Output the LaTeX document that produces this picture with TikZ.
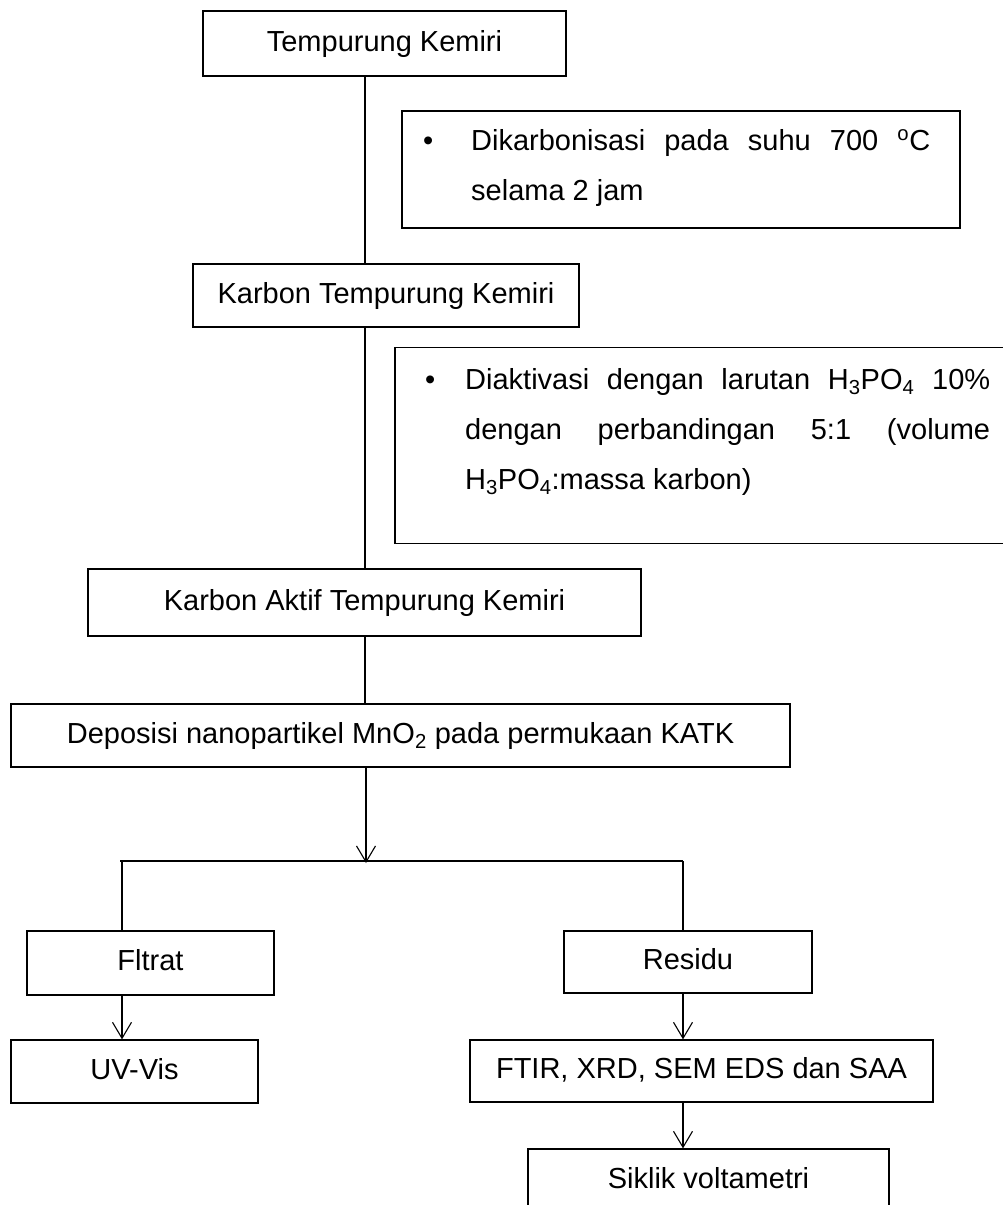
\documentclass[tikz,border=0pt]{standalone}
\usepackage{fontspec}
\setmainfont{Liberation Sans}
\usetikzlibrary{arrows.meta}
\tikzset{
  box/.style={draw, line width=1.3pt, rectangle, inner sep=0pt, align=center,
    text height=21pt, text depth=6pt, font=\fontsize{29pt}{50pt}\selectfont},
  frame/.style={draw, line width=1.3pt, rectangle, inner sep=0pt},
  note/.style={inner sep=0pt, anchor=base west, font=\fontsize{29pt}{50pt}\selectfont},
  conn/.style={line width=1.5pt},
  bar/.style={line width=2.4pt},
  arr/.style={-{Straight Barb[length=16pt,width=19pt,line width=1.1pt]}},
}
\begin{document}
\begin{tikzpicture}[x=1pt,y=-1pt]
\useasboundingbox (0,0) rectangle (1003,1205);

% main chain
\node[box, minimum width=363pt, minimum height=65pt] (tk)  at (384.5,43.5) {Tempurung Kemiri};
\node[box, minimum width=386pt, minimum height=63pt] (ktk) at (386,295.5) {Karbon Tempurung Kemiri};
\node[box, minimum width=553pt, minimum height=67pt] (kat) at (364.5,602.5) {Karbon Aktif Tempurung Kemiri};
\node[box, minimum width=779pt, minimum height=63pt] (dep) at (400.5,735.5)
  {Deposisi nanopartikel MnO\textsubscript{2} pada permukaan KATK};

% process notes
\node[frame, minimum width=558pt, minimum height=117pt] (dk) at (681,169.5) {};
\node[note] (dktxt) at (471,150) {\begin{minipage}[t]{459pt}\noindent
  \llap{\textbullet\hspace{38pt}}Dikarbonisasi pada suhu 700 \textsuperscript{o}C\linebreak
  selama 2 jam\end{minipage}};

\node[frame, minimum width=617pt, minimum height=196pt] (akt) at (703.5,445.5) {};
\node[note] (akttxt) at (465,389) {\begin{minipage}[t]{525pt}\noindent
  \llap{\textbullet\hspace{30pt}}Diaktivasi dengan larutan H\textsubscript{3}PO\textsubscript{4} 10\%\linebreak
  dengan perbandingan 5:1 (volume\linebreak
  H\textsubscript{3}PO\textsubscript{4}:massa karbon)\end{minipage}};

% branches
\node[box, minimum width=247pt, minimum height=64pt] (fil)  at (150.5,963) {Fltrat};
\node[box, minimum width=247pt, minimum height=63pt] (uv)   at (134.5,1071.5) {UV-Vis};
\node[box, minimum width=248pt, minimum height=62pt] (res)  at (688,962) {Residu};
\node[box, minimum width=463pt, minimum height=62pt] (ftir) at (701.5,1071) {FTIR, XRD, SEM EDS dan SAA};
\node[box, minimum width=361pt, minimum height=63pt] (sv)   at (708.5,1180.5) {Siklik voltametri};

% connector guides
\coordinate (tx) at (365,0);
\coordinate (split) at (366,861);
\coordinate (sl) at (122,861);
\coordinate (sr) at (683,861);

\draw[conn] (tk.south -| tx) -- (ktk.north -| tx);
\draw[conn] (ktk.south -| tx) -- (kat.north -| tx);
\draw[conn] (kat.south -| tx) -- (dep.north -| tx);
\draw[conn,arr] (dep.south -| split) -- ([yshift=-2pt]split);
\draw[bar] ([xshift=-2pt]sl) -- (sr);
\draw[conn] (sl) -- (fil.north -| sl);
\draw[conn] (sr) -- (res.north -| sr);
\draw[conn,arr] (fil.south -| sl) -- (uv.north -| sl);
\draw[conn,arr] (res.south -| sr) -- (ftir.north -| sr);
\draw[conn,arr] (ftir.south -| sr) -- (sv.north -| sr);
\end{tikzpicture}
\end{document}
